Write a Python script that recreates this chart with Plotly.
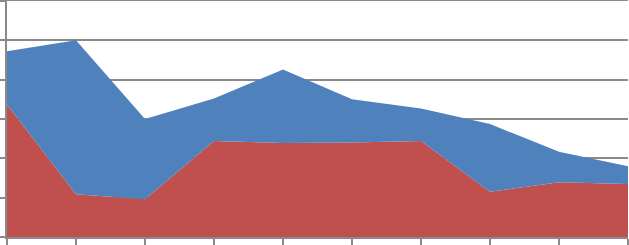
import plotly.graph_objects as go

categories = list(range(10))
series_red = [3.37, 1.09, 0.96, 2.44, 2.39, 2.40, 2.44, 1.15, 1.39, 1.35]
series_blue = [1.35, 3.91, 2.04, 1.08, 1.87, 1.10, 0.83, 1.72, 0.78, 0.45]

fig = go.Figure()
fig.add_trace(go.Scatter(x=categories, y=series_red, stackgroup="one", mode="none",
                         fillcolor="#C0504D", name="Series 1"))
fig.add_trace(go.Scatter(x=categories, y=series_blue, stackgroup="one", mode="none",
                         fillcolor="#4F81BD", name="Series 2"))

grid = "#8A8A8A"
fig.update_layout(
    width=629, height=245,
    margin=dict(l=7, r=1, t=1, b=8, autoexpand=False),
    paper_bgcolor="white", plot_bgcolor="white",
    showlegend=False,
    xaxis=dict(range=[0, 9], tickmode="array", tickvals=categories, showticklabels=False,
               ticks="outside", ticklen=7, tickwidth=1.5, tickcolor=grid,
               showgrid=False, zeroline=False, showline=True, mirror=True,
               linecolor=grid, linewidth=2),
    yaxis=dict(range=[0, 6], dtick=1, showticklabels=False,
               ticks="outside", ticklen=7, tickwidth=1.5, tickcolor=grid,
               showgrid=True, gridcolor=grid, gridwidth=1.5, zeroline=False,
               showline=True, linecolor=grid, linewidth=2),
)
fig.write_html("out.html", config={"displayModeBar": False},
               post_script="document.body.style.margin='0';document.body.style.overflow='hidden';")
